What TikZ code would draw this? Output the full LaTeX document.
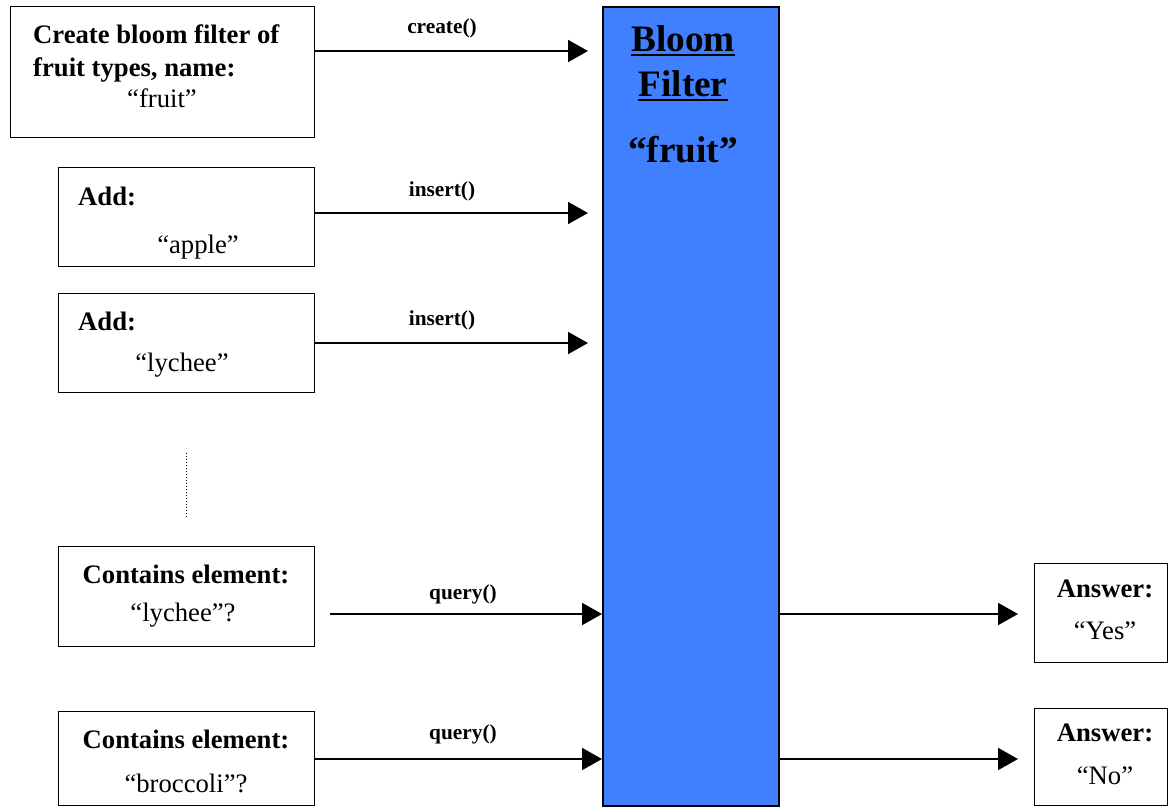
\documentclass[tikz,border=0pt]{standalone}
\usepackage{fontspec}
\setmainfont{Liberation Serif}
\usetikzlibrary{arrows.meta}
\definecolor{bloomblue}{RGB}{64,128,255}
\begin{document}
\begin{tikzpicture}[x=1pt,y=-1pt,
  box/.style={draw=black, line width=1pt, anchor=north west, inner sep=0pt},
  bt/.style={font=\fontsize{26.67}{32}\selectfont\bfseries, inner sep=0pt},
  nt/.style={font=\fontsize{26.67}{32}\selectfont, inner sep=0pt},
  bigt/.style={font=\fontsize{37.3}{44}\selectfont\bfseries, inner sep=0pt, anchor=base},
  lbl/.style={font=\fontsize{21.33}{26}\selectfont\bfseries, inner sep=0pt, anchor=base},
  conn/.style={line width=2pt, -{Triangle[length=20pt,width=22pt]}},
  uline/.style={line width=2pt},
]
\useasboundingbox (0,0) rectangle (1168,807);

% boxes
\node[box, minimum width=304pt, minimum height=131pt] (b1) at (10,6) {};
\node[box, minimum width=256pt, minimum height=99pt] (b2) at (58,167) {};
\node[box, minimum width=256pt, minimum height=99pt] (b3) at (58,293) {};
\node[box, minimum width=256pt, minimum height=100pt] (b4) at (58,546) {};
\node[box, minimum width=256pt, minimum height=94pt] (b5) at (58,711) {};
\node[box, fill=bloomblue, line width=1.5pt, minimum width=176pt, minimum height=799pt] (bloom) at (602,6) {};
\node[box, minimum width=133pt, minimum height=99pt] (a1) at (1034,563) {};
\node[box, minimum width=133pt, minimum height=97pt] (a2) at (1034,708) {};

% box texts
\node[bt, anchor=base west] (t1a) at (33,43) {Create bloom filter of};
\node[bt, anchor=base west] (t1b) at (33,76) {fruit types, name:};
\node[nt, anchor=base] (t1c) at (162,107) {“fruit”};

\node[bt, anchor=base west] (t2a) at (78,205) {Add:};
\node[nt, anchor=base] (t2b) at (198,253) {“apple”};

\node[bt, anchor=base west] (t3a) at (78,330) {Add:};
\node[nt, anchor=base] (t3b) at (182,371) {“lychee”};

\node[bt, anchor=base] (t4a) at (186,583) {Contains element:};
\node[nt, anchor=base] (t4b) at (183,621) {“lychee”?};

\node[bt, anchor=base] (t5a) at (186,748) {Contains element:};
\node[nt, anchor=base] (t5b) at (186,792) {“broccoli”?};

\node[bt, anchor=base] (ta1) at (1105,597) {Answer:};
\node[nt, anchor=base] (ta1b) at (1105,639) {“Yes”};
\node[bt, anchor=base] (ta2) at (1105,741) {Answer:};
\node[nt, anchor=base] (ta2b) at (1105,784) {“No”};

% bloom filter texts
\node[bigt] (bl1) at (683,51) {Bloom};
\node[bigt] (bl2) at (683,96) {Filter};
\node[bigt] (bl3) at (683,162) {“fruit”};
\draw[uline] ([yshift=-4pt]bl1.base west) -- ([yshift=-4pt]bl1.base east);
\draw[uline] ([yshift=-4pt]bl2.base west) -- ([yshift=-4pt]bl2.base east);

% arrow coordinates
\coordinate (e1) at (588,51);
\coordinate (e2) at (588,213);
\coordinate (e3) at (588,343);
\coordinate (q1s) at (330,614);
\coordinate (q2s) at (314,759);

% connectors
\draw[conn] (b1.east |- e1) -- (e1);
\draw[conn] (b2.east |- e2) -- (e2);
\draw[conn] (b3.east |- e3) -- (e3);
\draw[conn] (q1s) -- (bloom.west |- q1s);
\draw[conn] (b5.east |- q2s) -- (bloom.west |- q2s);
\draw[conn, shorten >=16pt] (bloom.east |- q1s) -- (a1.west |- q1s);
\draw[conn, shorten >=16pt] (bloom.east |- q2s) -- (a2.west |- q2s);

% labels
\node[lbl] (l1) at (442,33) {create()};
\node[lbl] (l2) at (442,196) {insert()};
\node[lbl] (l3) at (442,325) {insert()};
\node[lbl] (l4) at (463,599) {query()};
\node[lbl] (l5) at (463,739) {query()};

% dotted continuation
\coordinate (d1) at (186,453);
\coordinate (d2) at (186,517);
\draw[dotted, line width=1pt] (d1) -- (d2);
\end{tikzpicture}
\end{document}
